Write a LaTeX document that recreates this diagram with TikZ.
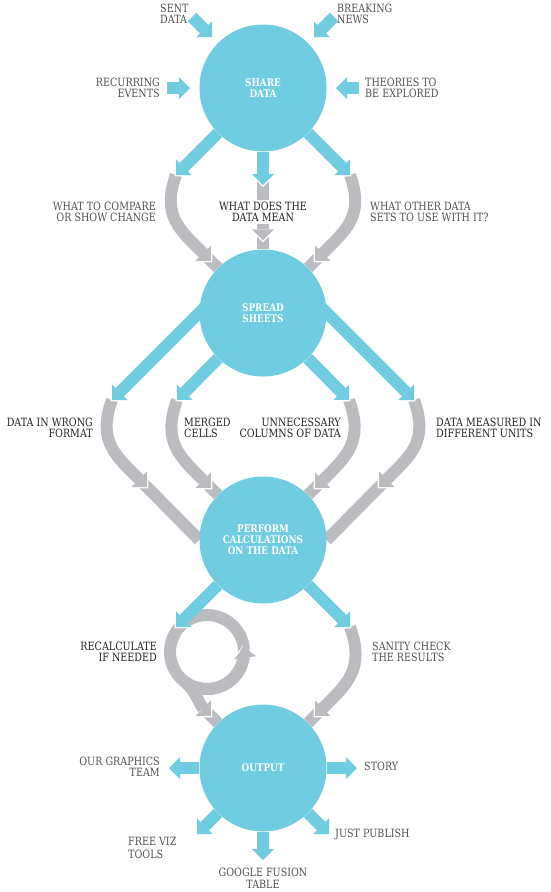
\documentclass[tikz,border=0pt]{standalone}
\usepackage{fontspec}
\setmainfont{DejaVu Serif}[FakeStretch=0.84]
\usetikzlibrary{arrows.meta,calc,backgrounds}

\definecolor{flowblue}{RGB}{111,204,225}
\definecolor{flowgray}{RGB}{187,188,192}
\definecolor{textgray}{RGB}{80,80,80}
\definecolor{textdark}{RGB}{35,35,35}

\begin{document}
\begin{tikzpicture}[x=1pt,y=1pt]
\tikzset{fhead/.tip={Triangle[width=22pt,length=11pt,line width=0pt]},
         hhead/.tip={Triangle[width=26pt,length=13pt,line width=0pt]}}
\tikzstyle{stage}=[circle, fill=flowblue, minimum size=127pt, inner sep=0pt, text=white, align=center, font=\bfseries\fontsize{10.5}{11}\selectfont]
\tikzstyle{remark}=[inner sep=0pt, text=textgray, font=\fontsize{11.4}{11}\selectfont]
\tikzstyle{dark remark}=[remark, text=textdark]
\tikzstyle{blue flow}=[line width=12pt, draw=flowblue, -fhead, preaction={draw=white, -hhead, shorten >=-2pt}]
\tikzstyle{gray flow}=[line width=12pt, draw=flowgray]
\tikzstyle{gray head}=[gray flow, -fhead, preaction={draw=white, -hhead, shorten >=-2pt}]

\useasboundingbox (0,0) rectangle (550,-892);

% the four stages
\node[stage] (share) at (263,-88) {SHARE\\DATA};
\node[stage] (sheets) at (263,-313) {SPREAD\\SHEETS};
\node[stage] (perform) at (263,-540) {PERFORM\\CALCULATIONS\\ON THE DATA};
\node[stage] (output) at (263,-768) {OUTPUT};

% arrow ends
\coordinate (sent0) at (192,-17);   \coordinate (sent) at (212,-37);
\coordinate (news0) at (334,-17);   \coordinate (news) at (314,-37);
\coordinate (recur0) at (167,-88);  \coordinate (recur) at (190,-88);
\coordinate (theory0) at (359,-88); \coordinate (theory) at (336,-88);

\coordinate (compare) at (176,-175);
\coordinate (mean) at (263,-185);
\coordinate (other) at (350,-175);

\coordinate (wrong0) at (220,-292); \coordinate (wrong) at (112,-400);
\coordinate (merged) at (177,-400);
\coordinate (columns) at (349,-400);
\coordinate (units0) at (306,-292); \coordinate (units) at (414,-400);

\coordinate (recalc) at (176,-627);
\coordinate (sanity) at (350,-627);
\coordinate (loop) at (207,-652);

\coordinate (team) at (169,-768);
\coordinate (story) at (357,-768);
\coordinate (freeviz) at (197,-834);
\coordinate (publish) at (329,-834);
\coordinate (fusion) at (263,-860);

% gray arrow heads
\coordinate (h1a) at ($(sheets.135)+(-7,7)$);
\coordinate (h1b) at ($(sheets.north)+(0,9)$);
\coordinate (h1c) at ($(sheets.45)+(7,7)$);
\coordinate (h2a) at (147,-487);
\coordinate (h2b) at ($(perform.135)+(-7,7)$);
\coordinate (h2c) at ($(perform.45)+(7,7)$);
\coordinate (h2d) at (379,-487);
\coordinate (h3a) at ($(output.135)+(-7,7)$);
\coordinate (h3b) at ($(output.45)+(7,7)$);

\begin{scope}[on background layer]
% gray tails into the next stage
\draw[gray flow] ($(h1a)+(-6,6)$) -- (sheets.135);
\draw[gray flow] ($(h1b)+(0,6)$) -- (sheets.north);
\draw[gray flow] ($(h1c)+(6,6)$) -- (sheets.45);
\draw[gray flow] ($(h2a)+(-6,6)$) -- (perform.west);
\draw[gray flow] ($(h2b)+(-6,6)$) -- (perform.135);
\draw[gray flow] ($(h2c)+(6,6)$) -- (perform.45);
\draw[gray flow] ($(h2d)+(6,6)$) -- (perform.east);
\draw[gray flow] (loop) circle[radius=37pt];
\draw[gray flow] ($(h3a)+(-6,6)$) -- (output.135);
\draw[gray flow] ($(h3b)+(6,6)$) -- (output.45);

% gray bends with heads
\draw[gray head] (compare) to[out=-110,in=135,looseness=1.2] (h1a);
\draw[gray head] ($(mean)+(0,7)$) -- (h1b);
\draw[gray head] (other) to[out=-70,in=45,looseness=1.2] (h1c);
\draw[gray head] (wrong) to[out=-110,in=135,looseness=1.2] (h2a);
\draw[gray head] (merged) to[out=-110,in=135,looseness=1.2] (h2b);
\draw[gray head] (columns) to[out=-70,in=45,looseness=1.2] (h2c);
\draw[gray head] (units) to[out=-70,in=45,looseness=1.2] (h2d);
\draw[gray head] ($(loop)+(250:37pt)$) arc[start angle=250, end angle=368, radius=37pt];
\draw[gray head] ($(loop)+(230:37pt)$) to[out=-40,in=135] (h3a);
\draw[gray head] (sanity) to[out=-70,in=45,looseness=1.2] (h3b);

% blue arrows
\draw[blue flow] (sent0) -- (sent);
\draw[blue flow] (news0) -- (news);
\draw[blue flow] (recur0) -- (recur);
\draw[blue flow] (theory0) -- (theory);
\draw[blue flow] (share) -- (compare);
\draw[blue flow] (share) -- (mean);
\draw[blue flow] (share) -- (other);
\draw[blue flow] (wrong0) -- (wrong);
\draw[blue flow] (sheets) -- (merged);
\draw[blue flow] (sheets) -- (columns);
\draw[blue flow] (units0) -- (units);
\draw[blue flow] (perform) -- (recalc);
\draw[blue flow] (perform) -- (sanity);
\draw[blue flow] (output) -- (team);
\draw[blue flow] (output) -- (story);
\draw[blue flow] (output) -- (freeviz);
\draw[blue flow] (output) -- (publish);
\draw[blue flow] (output) -- (fusion);
\end{scope}

% texts
\node[remark, anchor=west, align=left] (sent-text) at (160,-14) {SENT\\DATA};
\node[remark, anchor=west, align=left] (news-text) at (337,-14) {BREAKING\\NEWS};
\node[remark, anchor=east, align=right] (recur-text) at (160,-88) {RECURRING\\EVENTS};
\node[remark, anchor=west, align=left] (theory-text) at (365,-88) {THEORIES TO\\BE EXPLORED};
\node[remark, anchor=east, align=right] (compare-text) at (156,-212) {WHAT TO COMPARE\\OR SHOW CHANGE};
\node[dark remark, fill=white, inner sep=2pt, align=center] (mean-text) at (263,-212) {WHAT DOES THE\\DATA MEAN};
\node[remark, anchor=west, align=left] (other-text) at (370,-212) {WHAT OTHER DATA\\SETS TO USE WITH IT?};
\node[dark remark, anchor=east, align=right] (wrong-text) at (93,-428) {DATA IN WRONG\\FORMAT};
\node[dark remark, anchor=west, align=left] (merged-text) at (184,-428) {MERGED\\CELLS};
\node[dark remark, anchor=east, align=right] (columns-text) at (341,-428) {UNNECESSARY\\COLUMNS OF DATA};
\node[dark remark, anchor=west, align=left] (units-text) at (436,-428) {DATA MEASURED IN\\DIFFERENT UNITS};
\node[dark remark, anchor=east, align=right] (recalc-text) at (157,-652) {RECALCULATE\\IF NEEDED};
\node[remark, anchor=west, align=left] (sanity-text) at (372,-652) {SANITY CHECK\\THE RESULTS};
\node[remark, anchor=east, align=right] (team-text) at (160,-767) {OUR GRAPHICS\\TEAM};
\node[remark, anchor=west] (story-text) at (364,-766) {STORY};
\node[remark, anchor=west, align=left, font=\fontsize{11.4}{13}\selectfont] (freeviz-text) at (128,-848) {FREE VIZ\\TOOLS};
\node[remark, anchor=west] (publish-text) at (335,-834) {JUST PUBLISH};
\node[remark, align=center, font=\fontsize{11.4}{12}\selectfont] (fusion-text) at (263,-878) {GOOGLE FUSION\\TABLE};

\end{tikzpicture}
\end{document}
